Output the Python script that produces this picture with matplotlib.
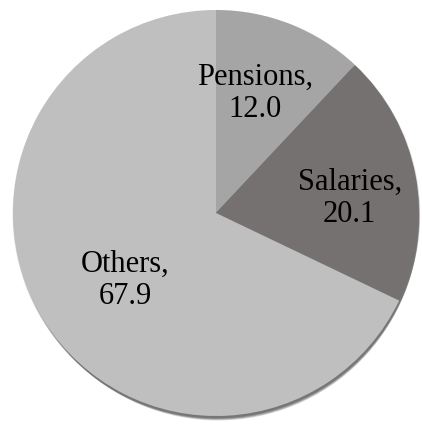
import matplotlib.pyplot as plt
import numpy as np
from matplotlib.patches import Circle

# Data
categories = ["Pensions", "Salaries", "Others"]
values = [12.0, 20.1, 67.9]
colors = ["#a5a5a5", "#767171", "#bfbfbf"]

fig = plt.figure(figsize=(4.22, 4.26), dpi=100)
ax = fig.add_axes([0, 0, 1, 1])

cx, cy, r = 216, 213, 203

# soft shadow below the pie
for k in range(14):
    shift = 1.0 + k * 0.5
    ax.add_patch(Circle((cx + shift * 0.3, cy - shift), r + 1.0 - k * 0.3,
                        color="black", alpha=0.05, lw=0, zorder=0))

labels = [f"{c},\n{v:.1f}" for c, v in zip(categories, values)]
wedges, texts = ax.pie(
    values, labels=labels, colors=colors, startangle=90, counterclock=False,
    center=(cx, cy), radius=r, labeldistance=0.62, frame=True,
    wedgeprops={"linewidth": 0},
    textprops={"fontsize": 22, "family": "Liberation Serif",
               "linespacing": 1.15},
)

# nudge labels the way the original layout placed them (pixels)
nudges = [(-7, 3), (10, -9), (16, 0)]
for t, (dx, dy) in zip(texts, nudges):
    x, y = t.get_position()
    t.set_position((x + dx, y + dy))
    t.set_horizontalalignment("center")
    t.set_verticalalignment("center")

ax.set_xlim(0, 422)
ax.set_ylim(0, 426)
ax.set_aspect("equal")
ax.axis("off")

fig.savefig("out.png", dpi=100)
